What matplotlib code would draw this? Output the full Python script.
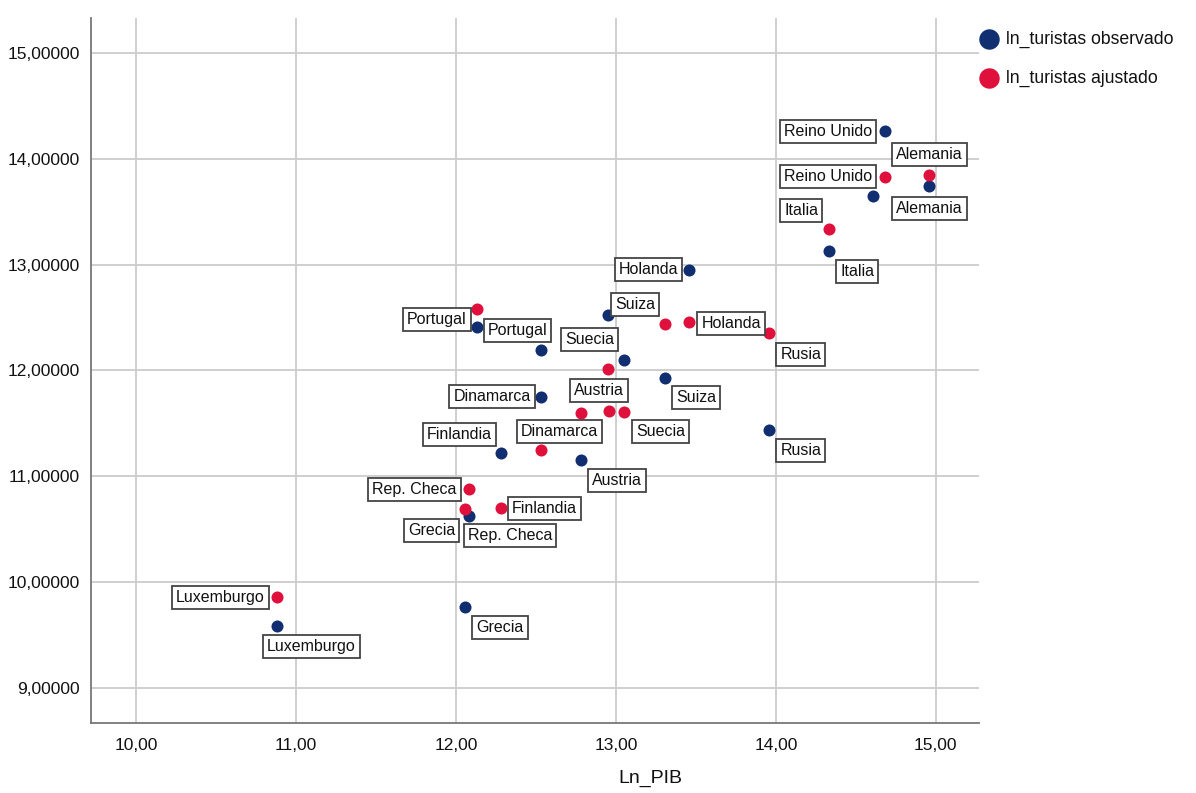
import matplotlib
matplotlib.use("Agg")
import matplotlib.pyplot as plt
from matplotlib.ticker import FuncFormatter

plt.rcParams['font.family'] = ['Liberation Sans', 'DejaVu Sans']

# Valores por pais: ln del PIB, ln turistas observado y ajustado
paises = ["Reino Unido", "Alemania", "Italia", "Holanda", "Portugal", "Suecia",
          "Suiza", "Dinamarca", "Finlandia", "Austria", "Rusia", "Rep. Checa",
          "Grecia", "Luxemburgo"]
ln_pib = [14.68, 14.96, 14.335, 13.46, 12.13, 13.05,
          13.31, 12.53, 12.28, 12.78, 13.96, 12.08,
          12.06, 10.88]
ln_obs = [14.26, 13.74, 13.13, 12.95, 12.41, 12.10,
          11.93, 11.75, 11.22, 11.15, 11.44, 10.63,
          9.77, 9.59]
ln_ajus = [13.83, 13.85, 13.34, 12.46, 12.58, 11.61,
           12.44, 11.25, 10.70, 11.60, 12.35, 10.88,
           10.69, 9.86]

# puntos sin etiqueta
otros_pib_obs = [14.61, 12.53, 12.95]
otros_obs = [13.65, 12.19, 12.52]
otros_pib_ajus = [12.95, 12.96]
otros_ajus = [12.01, 11.62]

# desplazamiento de cada etiqueta (px) y alineacion
pos_obs = [(-13, 0, 'right'), (0, -22, 'center'), (11, -21, 'left'), (-11, 0, 'right'),
           (11, -3, 'left'), (-10, 20, 'right'), (11, -20, 'left'), (-10, 0, 'right'),
           (-9, 19, 'right'), (11, -20, 'left'), (11, -21, 'left'), (-1, -20, 'left'),
           (11, -21, 'left'), (35, -21, 'center')]
pos_ajus = [(-13, 0, 'right'), (0, 20, 'center'), (-11, 18, 'right'), (12, -2, 'left'),
            (-10, -10, 'right'), (12, -20, 'left'), (-10, 19, 'right'), (19, 18, 'center'),
            (11, 0, 'left'), (18, 22, 'center'), (11, -21, 'left'), (-12, 0, 'right'),
            (-10, -21, 'right'), (-12, 0, 'right')]

azul = '#102e70'
rojo = '#e0103c'
texto = '#111111'

fig = plt.figure(figsize=(11.96, 7.93), dpi=100)
ax = fig.add_axes([0.0761, 0.0883, 0.7425, 0.889])

ax.scatter(ln_pib + otros_pib_obs, ln_obs + otros_obs, s=75, color=azul,
           label='ln_turistas observado', zorder=3, linewidths=0)
ax.scatter(ln_pib + otros_pib_ajus, ln_ajus + otros_ajus, s=75, color=rojo,
           label='ln_turistas ajustado', zorder=3, linewidths=0)

caja = dict(boxstyle='square,pad=0.25', facecolor='white', edgecolor='#444444', linewidth=1.3)
for nombre, x, yo, ya, po, pa in zip(paises, ln_pib, ln_obs, ln_ajus, pos_obs, pos_ajus):
    for y, (dx, dy, ha) in ((yo, po), (ya, pa)):
        ax.annotate(nombre, (x, y), xytext=(dx, dy), textcoords='offset pixels',
                    ha=ha, va='center', fontsize=11.5, color=texto, bbox=caja, zorder=4)

ax.set_xlim(9.72, 15.27)
ax.set_ylim(8.67, 15.33)
ax.set_xticks([10, 11, 12, 13, 14, 15])
ax.set_yticks([9, 10, 11, 12, 13, 14, 15])
ax.xaxis.set_major_formatter(FuncFormatter(lambda v, p: f"{v:.2f}".replace('.', ',')))
ax.yaxis.set_major_formatter(FuncFormatter(lambda v, p: f"{v:.5f}".replace('.', ',')))
ax.tick_params(length=0, labelsize=12.5, colors=texto)
ax.tick_params(axis='y', pad=8)
ax.tick_params(axis='x', pad=11)

ax.grid(True, color='#cccccc', linewidth=1.3)
ax.set_axisbelow(True)
for s in ('top', 'right'):
    ax.spines[s].set_visible(False)
for s in ('left', 'bottom'):
    ax.spines[s].set_color('#777777')
    ax.spines[s].set_linewidth(1.3)

ax.set_xlabel('Ln_PIB', fontsize=14, color=texto)
ax.xaxis.set_label_coords(0.63, -0.066)

ax.legend(loc='upper left', bbox_to_anchor=(0.983, 0.992), frameon=False,
          markerscale=1.7, handletextpad=0.0, labelspacing=1.25, fontsize=12.7,
          borderaxespad=0, labelcolor=texto)

fig.savefig('out.png', dpi=100, facecolor='white')
